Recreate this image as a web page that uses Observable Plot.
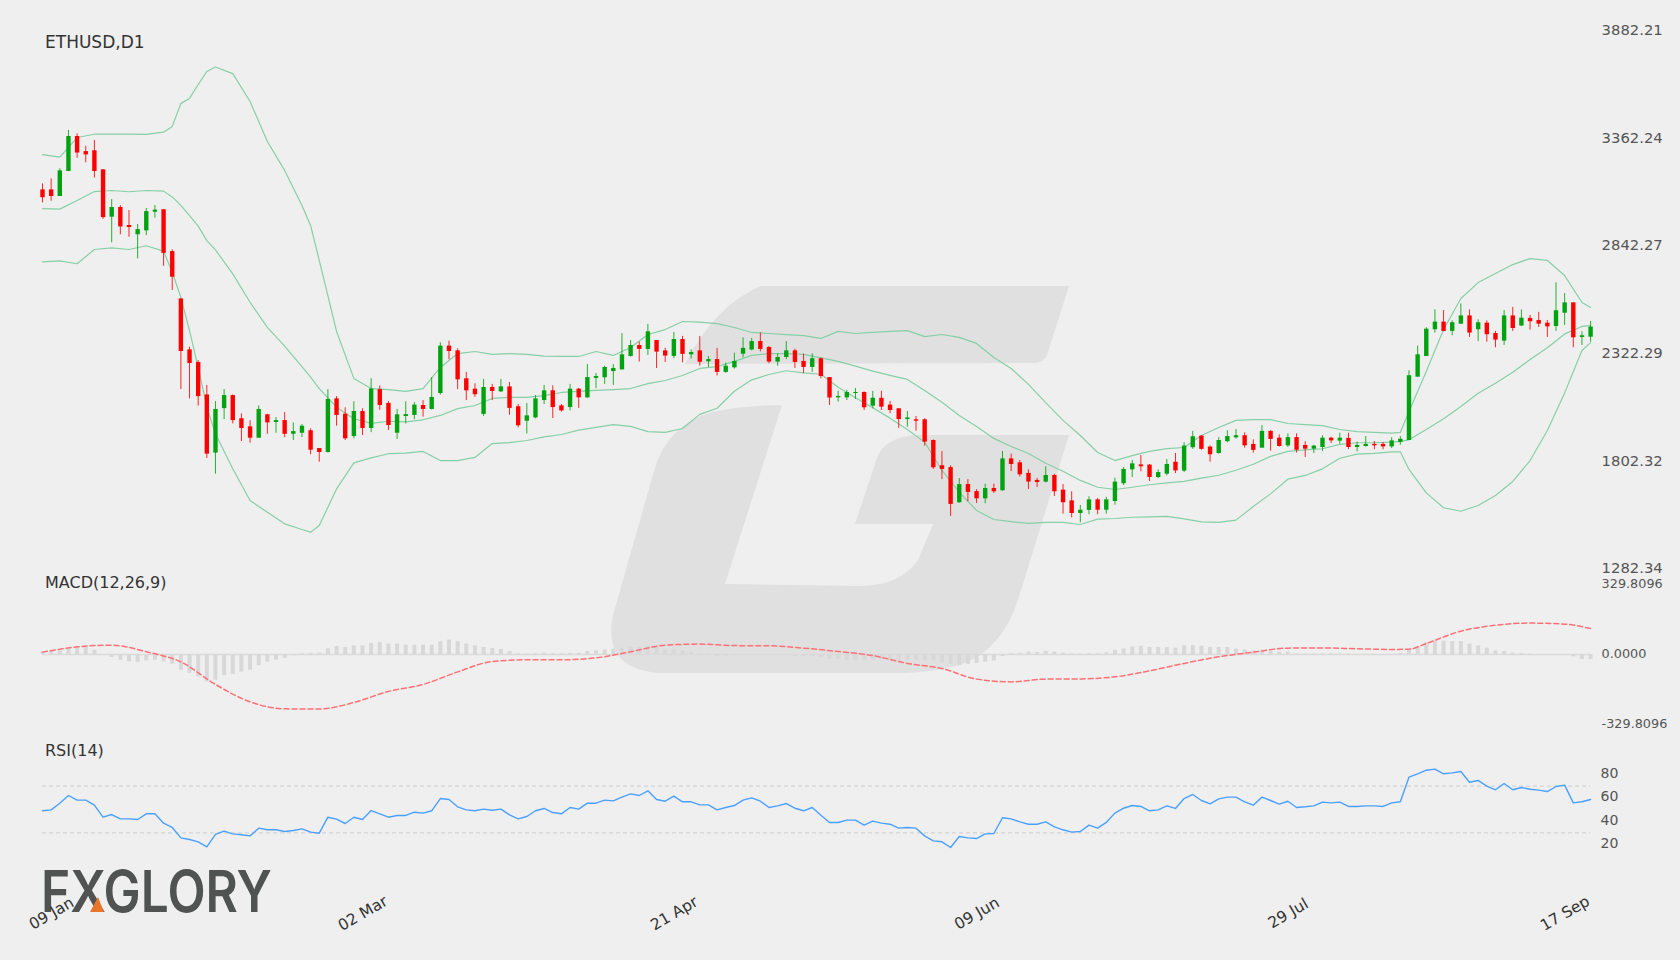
<!DOCTYPE html>
<html>
<head>
<meta charset="utf-8">
<title>ETHUSD,D1</title>
<script src="https://cdn.jsdelivr.net/npm/d3@7"></script>
<script src="https://cdn.jsdelivr.net/npm/@observablehq/plot@0.6"></script>
<style>
html,body{margin:0;padding:0;background:#efefef;width:1680px;height:960px;overflow:hidden}
#page{position:relative;width:1680px;height:960px}
#bg{position:absolute;left:0;top:0}
#charts{position:absolute;left:0;top:0;width:1680px}
#charts svg{display:block}
</style>
</head>
<body>
<div id="page">
<svg id="bg" width="1680" height="960" viewBox="0 0 1680 960">
  <path fill="#e0e0e0" d="M685 364 Q715 305 761 286 L1069 286 L1047 355 Q1044 362 1035 363 Z"/>
  <path fill="#e0e0e0" d="M657 673 Q602 668 613 615 L654 471 Q667 425 712 412 Q745 405 782 405 L725 584 L860 586 Q900 586 918 560 L933 524 L855 524 L878 455 Q888 437 915 435 L1069 435 L1018 600 Q1002 650 960 665 Q930 673 900 673 Z"/>
  <text x="41" y="912" font-family="Inter,'Open Sans',sans-serif" font-weight="600" font-size="58" fill="#505352" textLength="231" lengthAdjust="spacingAndGlyphs">FXGLORY</text>
  <polygon points="90,912 98,897 104,912" fill="#e8762a"/>
</svg>
<div id="charts"></div>
</div>
<script>
const tickIndex = [0, 36, 72, 107, 143, 175];
const tickLabels = ["09 Jan", "02 Mar", "21 Apr", "09 Jun", "29 Jul", "17 Sep"];
const priceTicks = [3882.21, 3362.24, 2842.27, 2322.29, 1802.32, 1282.34];
const macdTicks = [329.8096, 0, -329.8096];
const rsiTicks = [80, 60, 40, 20];
const rsiLevels = [70, 30];

const open = [3112,3112,3080,3201,3370,3297,3301,3209,2980,3027,2940,2895,2914,3004,3016,2814,2585,2339,2278,2121,
1840,2055,2118,2006,1967,1912,2025,1988,1997,1931,1936,1948,1862,1843,2102,2028,1920,2041,1959,2147,
2080,1936,2017,2022,2070,2051,2128,2357,2334,2199,2149,2027,2157,2136,2160,2064,1994,2010,2094,2141,
2068,2060,2149,2107,2201,2204,2234,2242,2307,2360,2341,2384,2334,2307,2389,2315,2334,2281,2292,2230,
2252,2318,2338,2379,2350,2280,2302,2334,2283,2254,2296,2205,2107,2107,2128,2133,2067,2105,2072,2054,
2002,2001,2001,1901,1779,1770,1600,1688,1654,1619,1669,1658,1812,1793,1742,1708,1700,1732,1661,1609,
1548,1563,1614,1564,1606,1692,1759,1783,1782,1722,1738,1796,1753,1866,1922,1869,1838,1895,1914,1924,
1882,1864,1945,1912,1875,1915,1877,1859,1867,1912,1898,1911,1867,1872,1882,1882,1870,1891,1901,2207,
2307,2436,2473,2428,2463,2503,2436,2468,2418,2381,2503,2454,2491,2481,2468,2452,2516,2566,2399,2400];
const high = [3141,3165,3214,3399,3383,3323,3351,3209,3065,3036,3012,2945,3022,3036,3016,2822,2585,2352,2287,2167,
2089,2147,2121,2030,1997,2068,2028,2012,2036,1986,1978,1957,1862,2146,2113,2059,2088,2054,2199,2165,
2089,2051,2088,2084,2094,2205,2373,2381,2344,2230,2175,2196,2172,2196,2181,2075,2080,2118,2167,2165,
2075,2172,2152,2268,2225,2260,2268,2417,2384,2376,2462,2384,2347,2423,2404,2339,2404,2307,2346,2275,
2323,2397,2394,2421,2355,2320,2379,2342,2318,2320,2299,2205,2139,2144,2152,2136,2138,2139,2089,2054,
2041,2017,2006,1904,1848,1779,1717,1712,1663,1690,1690,1848,1835,1804,1759,1717,1774,1737,1688,1653,
1587,1629,1621,1626,1719,1770,1804,1828,1785,1759,1809,1838,1890,1945,1925,1875,1915,1948,1954,1938,
1904,1973,1948,1928,1933,1933,1895,1877,1924,1917,1936,1936,1893,1920,1896,1891,1914,1920,2238,2357,
2446,2532,2529,2479,2561,2532,2484,2479,2428,2529,2544,2532,2505,2520,2481,2663,2611,2566,2426,2476];
const low = [3049,3057,3080,3201,3265,3243,3169,2970,2856,2895,2883,2779,2891,2975,2743,2626,2147,2102,2067,1814,
1738,2002,1981,1896,1888,1912,1931,1936,1915,1901,1915,1832,1796,1840,1970,1901,1909,1925,1939,2047,
1949,1906,1981,2001,2014,2048,2120,2291,2147,2094,2109,2017,2094,2133,2023,1962,1932,2006,2075,2007,
2038,2044,2056,2105,2152,2172,2167,2242,2304,2280,2312,2249,2278,2296,2276,2294,2260,2254,2213,2226,
2246,2300,2334,2329,2272,2260,2292,2249,2225,2230,2199,2070,2086,2094,2099,2046,2054,2046,2031,1959,
1965,1946,1874,1761,1712,1534,1597,1605,1597,1595,1645,1656,1751,1724,1664,1674,1696,1630,1545,1527,
1503,1542,1542,1545,1588,1683,1722,1750,1703,1717,1730,1741,1746,1858,1854,1796,1835,1890,1907,1864,
1840,1864,1849,1869,1867,1840,1819,1838,1848,1886,1883,1857,1846,1869,1856,1856,1862,1878,1901,2207,
2307,2420,2426,2407,2462,2399,2379,2376,2349,2360,2428,2452,2434,2447,2399,2428,2457,2349,2360,2376];
const close = [3074,3080,3204,3370,3290,3281,3201,2978,3027,2933,2930,2920,3007,3014,2805,2690,2331,2273,2113,1835,
2051,2118,1997,1959,1912,2051,1986,1997,1931,1944,1970,1854,1843,2099,2022,1909,2041,1959,2150,2070,
1973,2025,2026,2072,2051,2109,2357,2331,2194,2141,2122,2157,2138,2160,2056,1972,2020,2102,2141,2060,
2044,2149,2107,2205,2210,2254,2249,2315,2360,2341,2426,2328,2309,2389,2317,2326,2279,2292,2230,2260,
2283,2346,2379,2341,2280,2302,2334,2278,2254,2296,2210,2106,2114,2133,2133,2059,2105,2062,2046,2002,
2010,1994,1893,1769,1761,1592,1688,1650,1619,1669,1653,1812,1785,1735,1700,1698,1732,1653,1600,1548,
1564,1614,1564,1614,1700,1761,1788,1774,1722,1746,1785,1754,1874,1919,1858,1832,1901,1920,1924,1875,
1853,1945,1906,1872,1915,1854,1859,1874,1912,1899,1912,1867,1877,1882,1875,1870,1899,1907,2214,2315,
2439,2473,2428,2470,2503,2420,2470,2412,2386,2503,2442,2492,2475,2463,2450,2528,2566,2397,2407,2449];

const bandIndex = [0,2,4,6,8,10,12,14,15,16,17,18,19,20,22,24,26,28,30,31,32,34,36,38,
40,42,44,46,48,50,52,54,56,58,60,62,64,66,68,70,72,74,76,78,
80,82,84,86,88,90,92,94,96,98,100,102,104,106,108,110,112,114,116,118,
120,122,124,126,128,130,132,134,136,138,140,142,144,146,148,150,152,154,156,157,158,
160,162,164,166,168,170,172,174,176,178,179];
const bbUpper = [3282,3270,3365,3381,3381,3381,3380,3391,3418,3530,3554,3621,3684,3706,3674,3539,3346,3206,3037,2940,2771,2428,2201,2152,
2147,2138,2152,2254,2321,2331,2317,2321,2317,2309,2307,2307,2331,2312,2350,2413,2437,2476,2473,2466,
2447,2423,2418,2413,2408,2394,2428,2418,2423,2428,2432,2403,2413,2399,2370,2302,2249,2172,2084,1998,
1925,1843,1804,1828,1848,1862,1867,1925,1964,1998,2002,2002,1983,1978,1973,1954,1944,1940,1937,1940,2041,
2234,2437,2587,2664,2708,2751,2780,2771,2698,2568,2544];
const bbMiddle = [3021,3019,3061,3104,3109,3103,3109,3106,3078,3037,2988,2937,2867,2822,2706,2569,2448,2357,2258,2207,2152,2062,2006,1984,
1994,1991,2001,2022,2055,2070,2104,2109,2109,2118,2133,2138,2143,2147,2152,2176,2191,2215,2249,2258,
2283,2312,2321,2321,2317,2300,2283,2260,2236,2216,2196,2143,2086,2022,1969,1911,1872,1838,1791,1752,
1708,1675,1664,1675,1687,1696,1703,1719,1733,1757,1786,1824,1848,1856,1861,1882,1890,1890,1893,1897,1904,
1954,2006,2065,2129,2178,2231,2292,2349,2416,2452,2456];
const bbLower = [2764,2769,2755,2824,2832,2824,2842,2816,2714,2593,2432,2255,2062,1933,1764,1611,1554,1498,1471,1458,1490,1667,1793,1817,
1837,1840,1848,1804,1804,1819,1886,1891,1901,1918,1930,1951,1964,1978,1969,1944,1940,1959,2027,2057,
2139,2194,2220,2238,2228,2221,2158,2107,2059,2009,1954,1893,1756,1651,1563,1519,1509,1500,1505,1505,
1495,1521,1524,1530,1532,1534,1522,1508,1505,1516,1582,1643,1714,1732,1764,1815,1835,1839,1846,1846,1761,
1648,1576,1559,1587,1635,1703,1804,1949,2131,2336,2374];

const macdHist = [13,17,17,27,36,33,20,0,-14,-27,-35,-38,-30,-27,-35,-46,-74,-89,-105,-129,
-121,-100,-94,-83,-74,-53,-36,-27,-19,-6,3,6,6,27,38,33,41,41,52,57,
49,49,44,44,44,44,60,68,60,49,41,33,28,24,14,3,2,3,6,3,
3,6,6,14,17,22,25,30,35,33,39,33,22,24,16,9,3,2,-9,-9,
-6,-2,-2,-2,-5,-5,-3,-9,-9,-8,-14,-24,-24,-30,-30,-30,-27,-27,-31,-30,
-27,-27,-30,-30,-39,-47,-50,-46,-42,-36,-30,-9,3,6,11,9,16,11,6,3,
2,3,3,8,20,27,36,39,33,33,33,30,41,42,39,33,33,33,25,22,
17,20,14,11,11,2,2,2,3,3,3,2,-3,-3,-3,-3,-3,5,20,36,
55,63,63,61,61,49,41,30,17,14,6,5,2,-2,-5,-3,-2,-11,-24,-24];
const macdIndex = [0,4,8,12,16,20,24,28,32,36,40,44,48,52,56,60,64,68,72,76,80,84,88,92,96,100,104,108,112,116,120,124,128,132,136,140,144,148,152,156,158,160,164,168,172,176,179];
const macdLine = [11,36,44,13,-35,-141,-223,-256,-257,-226,-174,-141,-82,-33,-25,-25,-16,13,44,49,42,41,30,14,-5,-42,-66,-116,-129,-116,-115,-105,-77,-42,-11,11,30,31,27,24,25,52,110,138,148,143,122];

const rsi = [48.9,49.7,55.4,62,58,58,53.7,43.4,45.7,42,42,41.4,46.3,46.3,38.3,34.6,25.7,24.3,22.3,18,
28.6,31.4,29.1,28.3,27.4,34,32.6,32.6,31.1,32,33.4,30.6,29.7,43.4,41.7,38,43.4,41.4,49.1,46.3,
43.4,44.9,44.9,47.7,46.9,48.9,59.4,58.6,52.3,49.7,48.9,50.3,49.4,50.3,45.4,42,44,48.9,50.9,47.4,
46.3,51.7,50.3,55.4,55.4,58,57.4,60.6,63.4,62,66,58.6,57.1,61.4,56.6,56.6,54,54,49.7,51.7,
53.4,58,60,57.1,51.7,53.1,55.1,51.1,48.9,51.7,45.1,38.9,38.9,40.9,40.9,36.6,40,38.3,37.4,34,
34.6,34,27.4,23.1,22.3,17.4,26.9,25.7,25.1,29.1,29.4,42.9,42,39.4,37.4,37.4,39.4,35.1,32.6,30.6,
31.1,36.6,34,38.9,46.9,51.1,53.4,52.6,48.9,49.7,53.1,50.9,59.4,62.9,57.7,54.9,59.1,60.6,60.6,56.6,
53.7,60.6,57.7,54.6,57.1,51.7,52.3,53.1,56.3,55.7,56.3,52.6,52.6,53.1,53.1,52.6,55.7,56.6,77.7,80.6,
83.7,84.6,80.6,81.4,82.6,73.4,74.9,70,66.9,72.3,66.9,68.9,67.4,66.6,65.4,69.7,70.9,55.7,56.6,58.6];

for (const [n, a, len] of [["open",open,180],["high",high,180],["low",low,180],["close",close,180],["bbUpper",bbUpper,bandIndex.length],["bbMiddle",bbMiddle,bandIndex.length],["bbLower",bbLower,bandIndex.length],["macdHist",macdHist,180],["rsi",rsi,180],["macdLine",macdLine,macdIndex.length]]) {
  if (a.length !== len) throw new Error(n + " has length " + a.length + " expected " + len);
}

const FONT = "'DejaVu Sans', sans-serif";
const TEXT = "#555";
const RED = "#ff0000", GREEN = "#00a30f", BAND = "#86cfa6";
const xScale = {domain: [0, 179], axis: null};
const base = {width: 1680, marginLeft: 42, marginRight: 89.9,
  style: {background: "transparent", overflow: "visible", fontFamily: FONT}};

const candles = d3.range(180).map(i => ({i, o: open[i], h: high[i], l: low[i], c: close[i], up: close[i] >= open[i]}));
const pts = (idx, vals) => idx.map((i, k) => ({i, v: vals[k]}));

const pricePlot = Plot.plot({...base, height: 575, marginTop: 30, marginBottom: 7,
  x: xScale, y: {domain: [1282.34, 3882.21], axis: null},
  marks: [
    Plot.line(pts(bandIndex, bbUpper), {x: "i", y: "v", stroke: BAND, strokeWidth: 1.2}),
    Plot.line(pts(bandIndex, bbMiddle), {x: "i", y: "v", stroke: BAND, strokeWidth: 1.2}),
    Plot.line(pts(bandIndex, bbLower), {x: "i", y: "v", stroke: BAND, strokeWidth: 1.2}),
    Plot.ruleX(candles, {x: "i", y1: "l", y2: "h", stroke: d => d.up ? GREEN : RED, strokeWidth: 1, strokeOpacity: 0.85}),
    Plot.ruleX(candles, {x: "i", y1: "o", y2: "c", stroke: d => d.up ? GREEN : RED, strokeWidth: 4.4}),
    Plot.axisY({anchor: "right", ticks: priceTicks, tickSize: 0, tickPadding: 11, tickFormat: d => d.toFixed(2), fontSize: 14.8, fill: TEXT, label: null}),
    Plot.text(["ETHUSD,D1"], {frameAnchor: "top-left", dx: 2.5, dy: 12.5, lineAnchor: "middle", textAnchor: "start", fontSize: 17, fill: "#333"})
  ]
});

const histData = macdHist.map((v, i) => ({i, v}));
const macdPlot = Plot.plot({...base, height: 165, marginTop: 9, marginBottom: 16,
  x: xScale, y: {domain: [-329.8096, 329.8096], axis: null},
  marks: [
    Plot.ruleY([0], {x1: 0, x2: 179, stroke: "#dadada", strokeWidth: 1.5}),
    Plot.ruleX(histData, {x: "i", y1: 0, y2: "v", stroke: "#d8d8d8", strokeWidth: 4}),
    Plot.line(pts(macdIndex, macdLine), {x: "i", y: "v", stroke: "#ff7074", strokeWidth: 1.5, strokeDasharray: "5,3", curve: "monotone-x"}),
    Plot.axisY({anchor: "right", ticks: macdTicks, tickSize: 0, tickPadding: 11, tickFormat: d => d.toFixed(4), fontSize: 12.8, dy: -0.5, fill: TEXT, label: null}),
    Plot.text(["MACD(12,26,9)"], {frameAnchor: "top-left", dx: 2.5, dy: -2, lineAnchor: "middle", textAnchor: "start", fontSize: 16, fill: "#333"})
  ]
});

const rsiPlot = Plot.plot({...base, height: 220, marginTop: 34, marginBottom: 116,
  x: xScale, y: {domain: [20, 80], axis: null},
  marks: [
    Plot.ruleY(rsiLevels, {x1: 0, x2: 179, stroke: "#d4d4d4", strokeWidth: 1.2, strokeDasharray: "4,3"}),
    Plot.line(rsi.map((v, i) => ({i, v})), {x: "i", y: "v", stroke: "#4aa0ff", strokeWidth: 1.4}),
    Plot.axisY({anchor: "right", ticks: rsiTicks, tickSize: 0, tickPadding: 10, tickFormat: d => String(d), fontSize: 14, dy: -1, fill: TEXT, label: null}),
    Plot.text(["RSI(14)"], {frameAnchor: "top-left", dx: 2.5, dy: -24, lineAnchor: "middle", textAnchor: "start", fontSize: 16, fill: "#333"}),
    Plot.text(tickIndex.map((t, k) => ({t, s: tickLabels[k]})), {x: "t", text: "s", frameAnchor: "bottom", dx: 9, dy: 69, lineAnchor: "middle", textAnchor: "middle", rotate: -30, fontSize: 15.5, fill: "#333"})
  ]
});

const host = document.getElementById("charts");
host.append(pricePlot, macdPlot, rsiPlot);
</script>
</body>
</html>
